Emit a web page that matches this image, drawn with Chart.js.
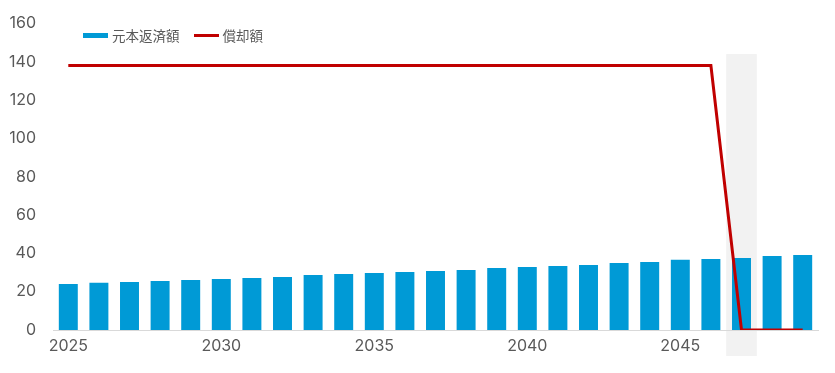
<!DOCTYPE html>
<html>
<head>
<meta charset="utf-8">
<script src="https://cdn.jsdelivr.net/npm/chart.js@4"></script>
<style>
  body { margin: 0; background: #fff; }
  #wrap { position: relative; width: 835px; height: 373px; }
  #legend { position: absolute; left: 83px; top: 25px; font-family: "Noto Sans CJK JP", sans-serif; font-size: 13.5px; color: #595959; display: flex; align-items: center; }
  .item { display: flex; align-items: center; margin-right: 14px; }
  .swatch { display: inline-block; width: 25px; margin-right: 4px; }
</style>
</head>
<body>
<div id="wrap">
  <canvas id="chart" width="835" height="373"></canvas>
  <div id="legend">
    <span class="item"><span class="swatch" style="height:5px;background:#009ad6"></span>元本返済額</span>
    <span class="item"><span class="swatch" style="height:3px;background:#c00000"></span>償却額</span>
  </div>
</div>
<script>
const years = [];
for (let y = 2025; y <= 2049; y++) years.push(String(y));

// 元本返済額
const principal = [24.0, 24.7, 25.1, 25.6, 26.1, 26.6, 27.2, 27.7, 28.7, 29.2,
                   29.8, 30.3, 30.8, 31.3, 32.4, 32.9, 33.4, 33.9, 35.0, 35.5,
                   36.6, 37.1, 37.6, 38.6, 39.2];
// 償却額
const amortization = [138, 138, 138, 138, 138, 138, 138, 138, 138, 138,
                      138, 138, 138, 138, 138, 138, 138, 138, 138, 138,
                      138, 138, 0, 0, 0];

const yTicks = [0, 20, 40, 60, 80, 100, 120, 140, 160];
const shadedYear = '2047';

// grey band behind the 2047 column
const bandPlugin = {
  id: 'band',
  beforeDraw(chart) {
    const x = chart.scales.x, y = chart.scales.y;
    const idx = years.indexOf(shadedYear);
    const w = (x.getPixelForValue(1) - x.getPixelForValue(0));
    const cx = x.getPixelForValue(idx);
    const top = y.getPixelForValue(144);
    const ctx = chart.ctx;
    ctx.save();
    ctx.fillStyle = '#f2f2f2';
    ctx.fillRect(cx - w / 2, top, w, chart.chartArea.bottom + 26 - top);
    ctx.restore();
  }
};

const tickFont = { family: 'Inter, sans-serif', size: 16 };

new Chart(document.getElementById('chart').getContext('2d'), {
  data: {
    labels: years,
    datasets: [
      {
        type: 'line',
        label: '償却額',
        data: amortization,
        borderColor: '#c00000',
        borderWidth: 3,
        pointRadius: 0,
        tension: 0,
        order: 0
      },
      {
        type: 'bar',
        label: '元本返済額',
        data: principal,
        backgroundColor: '#009ad6',
        barPercentage: 0.62,
        categoryPercentage: 1,
        order: 1
      }
    ]
  },
  options: {
    responsive: false,
    animation: false,
    layout: { padding: { top: 10, right: 17, left: 0, bottom: 0 } },
    plugins: {
      legend: { display: false },
      tooltip: { enabled: false }
    },
    scales: {
      x: {
        offset: true,
        grid: { display: false, drawTicks: false },
        border: { color: '#d9d9d9', width: 1 },
        ticks: {
          autoSkip: false,
          maxRotation: 0,
          padding: 7,
          color: '#595959',
          font: tickFont,
          callback: function(value, i) {
            return (i % 5 === 0) ? years[i] : '';
          }
        },
        afterFit: function(scale) { scale.height = 43; }
      },
      y: {
        min: 0,
        max: 160,
        grid: { display: false, drawTicks: false },
        border: { display: false },
        afterBuildTicks: function(scale) {
          scale.ticks = yTicks.map(v => ({ value: v }));
        },
        ticks: {
          padding: 17,
          color: '#595959',
          // small lineHeight keeps the top label overflow close to the reference
          font: { family: 'Inter, sans-serif', size: 16, lineHeight: 0.8 }
        },
        afterFit: function(scale) { scale.width = 53; }
      }
    }
  },
  plugins: [bandPlugin]
});
</script>
</body>
</html>
